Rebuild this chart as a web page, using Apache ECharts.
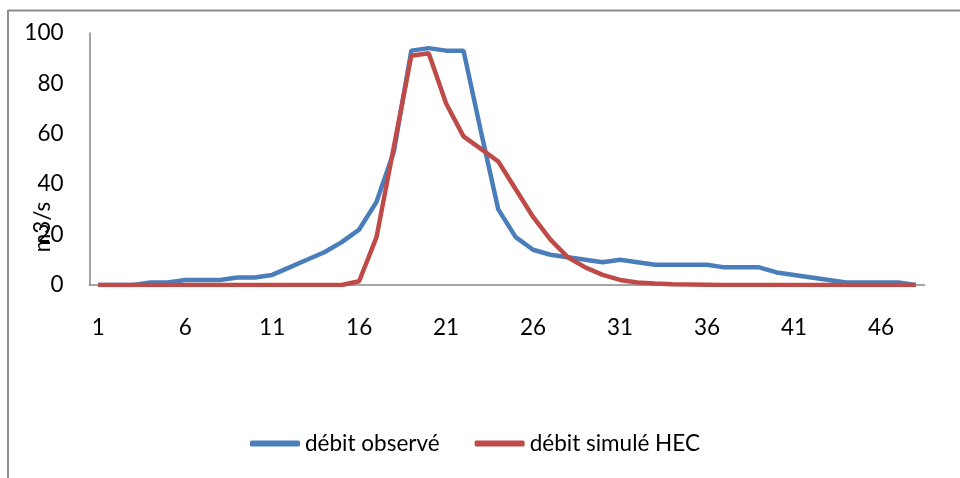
<!DOCTYPE html>
<html>
<head>
<meta charset="utf-8">
<script src="https://cdn.jsdelivr.net/npm/echarts@6/dist/echarts.min.js"></script>
<style>
html,body{margin:0;padding:0;background:#fff;}
#chart{width:960px;height:478px;}
</style>
</head>
<body>
<div id="chart"></div>
<script>
var categories = [];
for (var i = 1; i <= 48; i++) categories.push(String(i));

var observed = [0,0,0,1,1,2,2,2,3,3,4,7,10,13,17,22,33,53,93,94,93,93,61,30,19,14,12,11,10,9,10,9,8,8,8,8,7,7,7,5,4,3,2,1,1,1,1,0];
var simulated = [0,0,0,0,0,0,0,0,0,0,0,0,0,0,0,1.5,19,55,91,92,72,59,54,49,38,27,18,11,7,4,2,1,0.6,0.3,0.2,0.1,0,0,0,0,0,0,0,0,0,0,0,0];

var seriesNames = ['débit observé', 'débit simulé HEC'];
var yName = 'm3/s';

var chart = echarts.init(document.getElementById('chart'));
var font = 'Lato, "Open Sans", sans-serif';
var fs = 22.5;
chart.setOption({
  animation: false,
  backgroundColor: '#fff',
  grid: { left: 89.5, right: 35.5, top: 33, bottom: 193, containLabel: false },
  legend: {
    top: 427,
    left: 245,
    itemWidth: 50,
    itemHeight: 6,
    itemGap: 35,
    icon: 'roundRect',
    textStyle: { fontFamily: font, fontSize: fs, color: '#000' },
    data: seriesNames
  },
  xAxis: {
    type: 'category',
    data: categories,
    boundaryGap: true,
    axisLine: { lineStyle: { color: '#868686', width: 1.5 } },
    axisTick: { show: false },
    axisLabel: { interval: 4, margin: 31, fontFamily: font, fontSize: fs, color: '#000' },
    splitLine: { show: false }
  },
  yAxis: {
    type: 'value',
    min: 0, max: 100, interval: 20,
    axisLine: { show: true, lineStyle: { color: '#868686', width: 1.5 } },
    axisTick: { show: false },
    axisLabel: { margin: 26, fontFamily: font, fontSize: fs, color: '#000' },
    splitLine: { show: false }
  },
  graphic: [
    { type: 'line', shape: { x1: 8, y1: 10.5, x2: 960, y2: 10.5 }, style: { stroke: '#8c8c8c', lineWidth: 2 } },
    { type: 'line', shape: { x1: 8, y1: 10, x2: 8, y2: 478 }, style: { stroke: '#8c8c8c', lineWidth: 2 } },
    { type: 'text', x: 43, y: 227, rotation: Math.PI / 2,
      style: { text: yName, fontFamily: font, fontSize: fs, fill: '#000', align: 'center', verticalAlign: 'middle' } }
  ],
  series: [
    { name: seriesNames[0], type: 'line', data: observed, symbol: 'none',
      lineStyle: { color: '#4A7EBB', width: 4.5 }, itemStyle: { color: '#4A7EBB' } },
    { name: seriesNames[1], type: 'line', data: simulated, symbol: 'none',
      lineStyle: { color: '#BE4B48', width: 4.5 }, itemStyle: { color: '#BE4B48' } }
  ]
});
</script>
</body>
</html>
